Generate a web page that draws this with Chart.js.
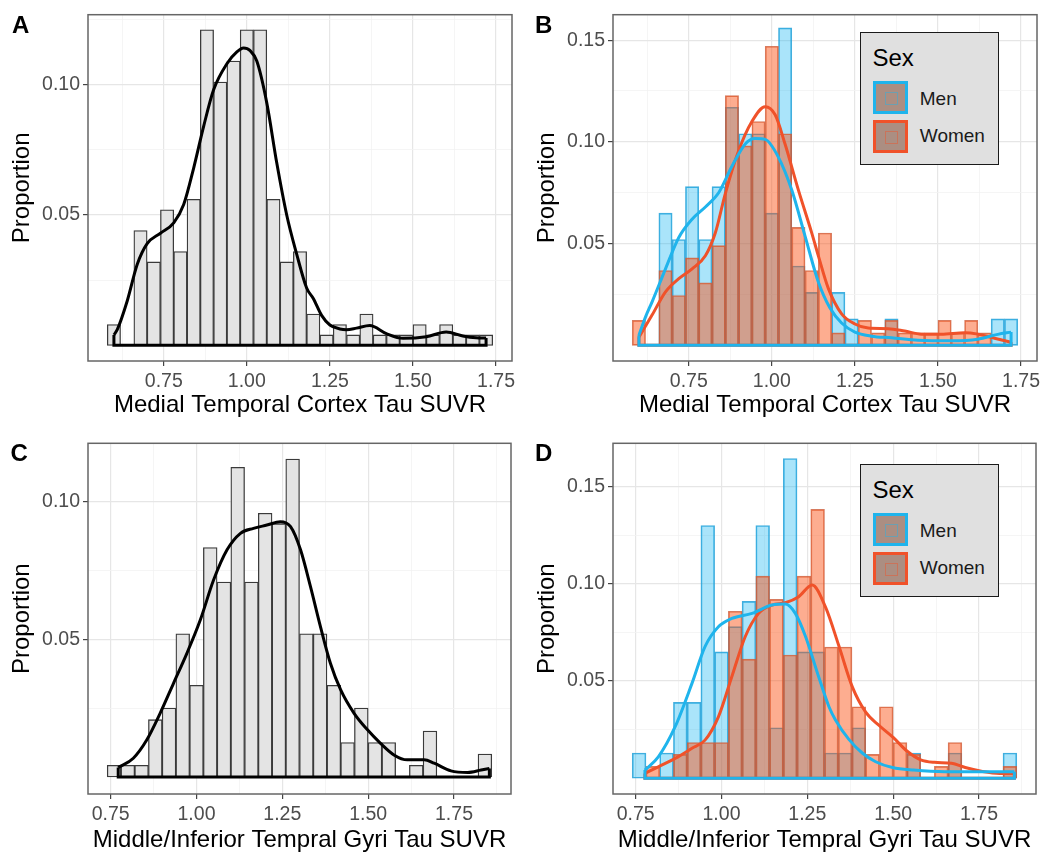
<!DOCTYPE html>
<html>
<head>
<meta charset="utf-8">
<script src="https://cdn.jsdelivr.net/npm/chart.js@4.4.1/dist/chart.umd.min.js"></script>
<style>
  body { margin: 0; background: #fff; font-family: "Liberation Sans", Arial, sans-serif; }
  #fig { position: relative; width: 1050px; height: 863px; overflow: hidden; }
  canvas { position: absolute; }
  .tag { position: absolute; font-weight: bold; font-size: 24px; line-height: 24px; color: #000; }
  .legend { position: absolute; left: 860px; width: 139px; height: 133px; box-sizing: border-box;
            background: #e0e0e0; border: 1.5px solid #1a1a1a; }
  .ltitle { position: absolute; left: 11.5px; top: 10.5px; height: 28px; line-height: 28px; font-size: 24px; }
  .key { position: absolute; left: 11.8px; width: 35px; height: 33px; box-sizing: border-box;
         border: 3px solid; background: #ab8e82; }
  .key div { position: absolute; left: 9px; top: 8px; width: 11px; height: 11px; border: 1px solid; opacity: 0.45; }
  .lab { position: absolute; left: 58.8px; height: 22px; line-height: 22px; font-size: 19px; color: #1a1a1a; }
</style>
</head>
<body>
<div id="fig">
  <canvas id="chartA" width="525" height="420" style="left:0;top:0"></canvas>
  <canvas id="chartB" width="525" height="420" style="left:525px;top:0"></canvas>
  <canvas id="chartC" width="525" height="435" style="left:0;top:420px"></canvas>
  <canvas id="chartD" width="525" height="435" style="left:525px;top:420px"></canvas>

  <div class="tag" style="left:12px;top:13px">A</div>
  <div class="tag" style="left:535px;top:13px">B</div>
  <div class="tag" style="left:10.5px;top:441px">C</div>
  <div class="tag" style="left:535px;top:441px">D</div>

  <div class="legend" style="top:32px">
    <div class="ltitle">Sex</div>
    <div class="key" style="top:48.2px;border-color:#1fb4ec"><div style="border-color:#1fb4ec"></div></div>
    <div class="key" style="top:86.5px;border-color:#f0522a"><div style="border-color:#f0522a"></div></div>
    <div class="lab" style="top:54.8px">Men</div>
    <div class="lab" style="top:92.2px">Women</div>
  </div>
  <div class="legend" style="top:464px">
    <div class="ltitle">Sex</div>
    <div class="key" style="top:48.2px;border-color:#1fb4ec"><div style="border-color:#1fb4ec"></div></div>
    <div class="key" style="top:86.5px;border-color:#f0522a"><div style="border-color:#f0522a"></div></div>
    <div class="lab" style="top:54.8px">Men</div>
    <div class="lab" style="top:92.2px">Women</div>
  </div>
</div>

<script>
// bin centres (width 0.04)
const binsMtc = [0.60, 0.64, 0.68, 0.72, 0.76, 0.80, 0.84, 0.88, 0.92, 0.96, 1.00, 1.04, 1.08, 1.12, 1.16,
  1.20, 1.24, 1.28, 1.32, 1.36, 1.40, 1.44, 1.48, 1.52, 1.56, 1.60, 1.64, 1.68, 1.72];
const binsMit = [0.76, 0.80, 0.84, 0.88, 0.92, 0.96, 1.00, 1.04, 1.08, 1.12, 1.16, 1.20, 1.24, 1.28,
  1.32, 1.36, 1.40, 1.44, 1.48, 1.52, 1.56, 1.60, 1.64, 1.68, 1.72, 1.76, 1.80, 1.84];

// medial temporal cortex proportions
const mtcAll = [0.008, 0, 0.044, 0.032, 0.052, 0.036, 0.056, 0.121, 0.101, 0.109, 0.121, 0.121, 0.056, 0.032, 0.036,
  0.012, 0.004, 0.008, 0.004, 0.012, 0.004, 0.004, 0.004, 0.008, 0.004, 0.008, 0.004, 0.004, 0.004];
const mtcMen = [0, 0, 0.065, 0.052, 0.078, 0.052, 0.078, 0.117, 0.104, 0.104, 0.065, 0.156, 0.039, 0.026, 0,
  0.026, 0.013, 0, 0, 0.013, 0, 0, 0, 0, 0, 0, 0, 0.013, 0.013];
const mtcWomen = [0.0123, 0, 0.0368, 0.0245, 0.043, 0.0307, 0.049, 0.1227, 0.098, 0.110, 0.147, 0.104, 0.058, 0.0368, 0.0552,
  0.0061, 0, 0.0123, 0.0061, 0.0123, 0.0061, 0.0061, 0.0061, 0.0123, 0.0061, 0.0123, 0.0061, 0, 0];

// middle/inferior temporal gyri proportions
const mitAll = [0.0042, 0.0042, 0.0042, 0.0208, 0.025, 0.052, 0.0333, 0.0833, 0.0708, 0.1125, 0.0708, 0.0958, 0.092, 0.1155,
  0.052, 0.052, 0.0333, 0.0125, 0.025, 0.0125, 0.0125, 0, 0.0042, 0.0167, 0, 0, 0, 0.0083];
const mitMen = [0.013, 0, 0.013, 0.039, 0.039, 0.13, 0.065, 0.078, 0.091, 0.13, 0.026, 0.1645, 0.065, 0.065,
  0.013, 0.013, 0.026, 0, 0, 0, 0.013, 0, 0, 0.013, 0, 0, 0, 0.013];
const mitWomen = [0, 0.0061, 0, 0.0123, 0.0184, 0.0184, 0.0184, 0.0859, 0.0613, 0.104, 0.092, 0.0634, 0.104, 0.1383,
  0.0675, 0.0675, 0.0368, 0.0123, 0.0368, 0.0184, 0.0123, 0, 0.0061, 0.0184, 0, 0, 0, 0.0061];

// density curves
const densMtcAllX = [0.600, 0.610, 0.640, 0.670, 0.700, 0.740, 0.780, 0.810, 0.840, 0.870, 0.900, 0.940, 0.970, 0.990, 1.010,
  1.030, 1.060, 1.090, 1.120, 1.150, 1.180, 1.200, 1.225, 1.250, 1.280, 1.300, 1.330, 1.370, 1.420, 1.470, 1.540, 1.600,
  1.650, 1.690, 1.720];
const densMtcAllY = [0.004, 0.006, 0.017, 0.031, 0.039, 0.043, 0.047, 0.054, 0.068, 0.084, 0.098, 0.108, 0.1125, 0.1140, 0.1130,
  0.109, 0.093, 0.070, 0.050, 0.035, 0.022, 0.018, 0.0115, 0.0078, 0.0063, 0.006, 0.0066, 0.0076, 0.0045, 0.0027, 0.0033, 0.0051,
  0.0036, 0.0029, 0.0028];
const densMtcMenX = [0.600, 0.620, 0.640, 0.680, 0.720, 0.760, 0.800, 0.840, 0.880, 0.920, 0.950, 0.980, 1.020, 1.060, 1.100,
  1.140, 1.175, 1.210, 1.250, 1.300, 1.360, 1.440, 1.540, 1.620, 1.680, 1.720];
const densMtcMenY = [0.005, 0.014, 0.0215, 0.0376, 0.053, 0.062, 0.068, 0.075, 0.088, 0.099, 0.1017, 0.1012, 0.0924, 0.0763, 0.0537,
  0.0311, 0.0183, 0.011, 0.0065, 0.0045, 0.0037, 0.0025, 0.0022, 0.003, 0.0054, 0.0065];
const densMtcWomenX = [0.600, 0.640, 0.680, 0.720, 0.760, 0.800, 0.830, 0.860, 0.900, 0.940, 0.980, 1.010, 1.040, 1.080, 1.120,
  1.140, 1.170, 1.210, 1.250, 1.290, 1.350, 1.400, 1.450, 1.510, 1.580, 1.620, 1.670, 1.720];
const densMtcWomenY = [0.004, 0.015, 0.0263, 0.0328, 0.0376, 0.044, 0.0553, 0.0746, 0.0956, 0.110, 0.1173, 0.1133, 0.0988, 0.0763, 0.0553,
  0.044, 0.028, 0.0155, 0.0105, 0.0085, 0.0082, 0.007, 0.0055, 0.0055, 0.0062, 0.0055, 0.0035, 0.0015];

const densMitAllX = [0.772, 0.816, 0.855, 0.894, 0.933, 0.972, 1.011, 1.050, 1.089, 1.128, 1.166, 1.205, 1.244, 1.274, 1.303,
  1.332, 1.361, 1.390, 1.420, 1.459, 1.498, 1.536, 1.575, 1.614, 1.663, 1.692, 1.741, 1.790, 1.829, 1.853];
const densMitAllY = [0.0034, 0.0068, 0.0134, 0.0231, 0.034, 0.0449, 0.057, 0.0716, 0.0825, 0.0885, 0.0903, 0.0915, 0.0927, 0.0909, 0.0825,
  0.0691, 0.0546, 0.0413, 0.0316, 0.0231, 0.0171, 0.0122, 0.008, 0.0062, 0.0062, 0.005, 0.0022, 0.0016, 0.0025, 0.0031];
const densMitMenX = [0.777, 0.816, 0.865, 0.914, 0.952, 0.991, 1.030, 1.089, 1.147, 1.186, 1.215, 1.245, 1.283, 1.313, 1.332,
  1.371, 1.410, 1.449, 1.498, 1.560, 1.650, 1.750, 1.853];
const densMitMenY = [0.0042, 0.011, 0.0265, 0.0488, 0.0677, 0.0779, 0.0822, 0.0848, 0.0891, 0.0896, 0.0848, 0.0728, 0.0522, 0.0368, 0.030,
  0.020, 0.013, 0.0085, 0.0055, 0.0042, 0.0034, 0.0034, 0.0034];
const densMitWomenX = [0.777, 0.816, 0.865, 0.914, 0.952, 0.991, 1.030, 1.069, 1.108, 1.147, 1.186, 1.225, 1.264, 1.303, 1.342,
  1.381, 1.420, 1.460, 1.500, 1.540, 1.580, 1.620, 1.670, 1.710, 1.760, 1.810, 1.853];
const densMitWomenY = [0.0025, 0.0059, 0.0102, 0.0154, 0.0196, 0.0316, 0.0522, 0.0728, 0.0848, 0.0891, 0.0903, 0.0934, 0.0994, 0.088, 0.068,
  0.047, 0.034, 0.027, 0.021, 0.014, 0.0095, 0.0082, 0.0077, 0.0055, 0.0035, 0.0025, 0.0025];

// axis ticks
const xMajor = [0.75, 1.00, 1.25, 1.50, 1.75];
const xMinorMtc = [0.625, 0.875, 1.125, 1.375, 1.625];
const xMinorMit = [0.875, 1.125, 1.375, 1.625, 1.875];
const yMajorA = [0.05, 0.10];
const yMajorB = [0.05, 0.10, 0.15];
const yMinorA = [0.025, 0.075, 0.125];
const yMinorC = [0.025, 0.075];

const xTitleMtc = "Medial Temporal Cortex Tau SUVR";
const xTitleMit = "Middle/Inferior Tempral Gyri Tau SUVR";

const menLine = "#1fb4ec";
const womenLine = "#f0522a";

Chart.defaults.font.family = '"Liberation Sans", Arial, sans-serif';

const toPoints = (xs, ys) => xs.map((x, i) => ({ x, y: ys[i] }));
const baseOf = (xs, ys) => [
  { x: xs[0], y: ys[0] }, { x: xs[0], y: 0 },
  { x: xs[xs.length - 1], y: 0 }, { x: xs[xs.length - 1], y: ys[ys.length - 1] },
];

const barSet = (bins, vals, fill, line, width, order) => ({
  type: "bar", data: toPoints(bins, vals), backgroundColor: fill, borderColor: line, borderWidth: width,
  borderSkipped: false, barPercentage: 1, categoryPercentage: 1, grouped: false, order,
});
const curveSet = (xs, ys, color, order) => ({
  type: "line", data: toPoints(xs, ys), borderColor: color, borderWidth: 3, pointRadius: 0,
  cubicInterpolationMode: "monotone", fill: false, order,
});
const baseSet = (xs, ys, color, order) => ({
  type: "line", data: baseOf(xs, ys), borderColor: color, borderWidth: 3, pointRadius: 0,
  tension: 0, fill: false, order,
});

const panelBorder = {
  id: "panelBorder",
  afterDraw(chart) {
    const { ctx, chartArea: a } = chart;
    ctx.save();
    ctx.strokeStyle = "#666";
    ctx.lineWidth = 1.5;
    ctx.strokeRect(a.left, a.top, a.right - a.left, a.bottom - a.top);
    ctx.restore();
  },
};

function axis(major, minor, min, max, size, title, horizontal) {
  const all = [...major, ...minor].sort((a, b) => a - b);
  const isMajor = (v) => major.some((m) => Math.abs(m - v) < 1e-9);
  return {
    type: "linear", min, max, offset: false,
    afterBuildTicks: (s) => { s.ticks = all.map((v) => ({ value: v })); },
    afterFit: (s) => { if (horizontal) s.height = size; else s.width = size; },
    grid: {
      offset: false,
      color: (c) => (c.tick && isMajor(c.tick.value) ? "#e6e6e6" : "#f3f3f3"),
      lineWidth: (c) => (c.tick && isMajor(c.tick.value) ? 1.2 : 0.8),
      tickColor: (c) => (c.tick && isMajor(c.tick.value) ? "#444" : "rgba(0,0,0,0)"),
      tickLength: 5, tickWidth: 1.2,
    },
    border: { display: false },
    ticks: {
      autoSkip: false, maxRotation: 0, padding: horizontal ? 4 : 3,
      color: "#4d4d4d", font: { size: 19.5 },
      callback: (v) => (isMajor(v) ? v.toFixed(2) : ""),
    },
    title: {
      display: true, text: title, color: "#000", font: { size: 24 },
      padding: horizontal ? { top: 0, bottom: 0 } : { top: 8, bottom: 0 },
    },
  };
}

function panel(id, datasets, o) {
  const ctx = document.getElementById(id).getContext("2d");
  return new Chart(ctx, {
    type: "bar",
    data: { datasets },
    options: {
      responsive: false, animation: false, devicePixelRatio: 1,
      layout: { padding: { left: 0, right: o.right, top: o.top, bottom: 0 } },
      plugins: { legend: { display: false }, tooltip: { enabled: false } },
      scales: {
        x: axis(xMajor, o.xMinor, o.xMin, o.xMax, o.xHeight, o.xTitle, true),
        y: axis(o.yMajor, o.yMinor, o.yMin, o.yMax, 88, "Proportion", false),
      },
    },
    plugins: [panelBorder],
  });
}

const menFill = "rgba(20,180,240,0.36)";
const menEdge = "rgba(35,160,215,0.85)";
const womenFill = "rgba(250,80,20,0.47)";
const womenEdge = "rgba(205,90,55,0.8)";

panel("chartA", [
  curveSet(densMtcAllX, densMtcAllY, "#000", 0),
  baseSet(densMtcAllX, densMtcAllY, "#000", 1),
  barSet(binsMtc, mtcAll, "#e4e4e4", "#3a3a3a", 1.3, 3),
], { top: 12, right: 13, xHeight: 59, xMin: 0.522, xMax: 1.798, yMin: -0.006, yMax: 0.1268,
     xMinor: xMinorMtc, xTitle: xTitleMtc, yMajor: yMajorA, yMinor: yMinorA });

panel("chartB", [
  curveSet(densMtcMenX, densMtcMenY, menLine, 0),
  baseSet(densMtcMenX, densMtcMenY, menLine, 1),
  curveSet(densMtcWomenX, densMtcWomenY, womenLine, 2),
  baseSet(densMtcWomenX, densMtcWomenY, womenLine, 3),
  barSet(binsMtc, mtcWomen, womenFill, womenEdge, 1, 4),
  barSet(binsMtc, mtcMen, menFill, menEdge, 1, 5),
], { top: 12, right: 13, xHeight: 59, xMin: 0.522, xMax: 1.798, yMin: -0.0077, yMax: 0.1625,
     xMinor: xMinorMtc, xTitle: xTitleMtc, yMajor: yMajorB, yMinor: yMinorA });

panel("chartC", [
  curveSet(densMitAllX, densMitAllY, "#000", 0),
  baseSet(densMitAllX, densMitAllY, "#000", 1),
  barSet(binsMit, mitAll, "#e4e4e4", "#3a3a3a", 1.3, 3),
], { top: 23.3, right: 14, xHeight: 61, xMin: 0.684, xMax: 1.916, yMin: -0.0062, yMax: 0.1212,
     xMinor: xMinorMit, xTitle: xTitleMit, yMajor: yMajorA, yMinor: yMinorC });

panel("chartD", [
  curveSet(densMitMenX, densMitMenY, menLine, 0),
  baseSet(densMitMenX, densMitMenY, menLine, 1),
  curveSet(densMitWomenX, densMitWomenY, womenLine, 2),
  baseSet(densMitWomenX, densMitWomenY, womenLine, 3),
  barSet(binsMit, mitWomen, womenFill, womenEdge, 1, 4),
  barSet(binsMit, mitMen, menFill, menEdge, 1, 5),
], { top: 23.3, right: 14, xHeight: 61, xMin: 0.684, xMax: 1.916, yMin: -0.0081, yMax: 0.1723,
     xMinor: xMinorMit, xTitle: xTitleMit, yMajor: yMajorB, yMinor: yMinorA });
</script>
</body>
</html>
